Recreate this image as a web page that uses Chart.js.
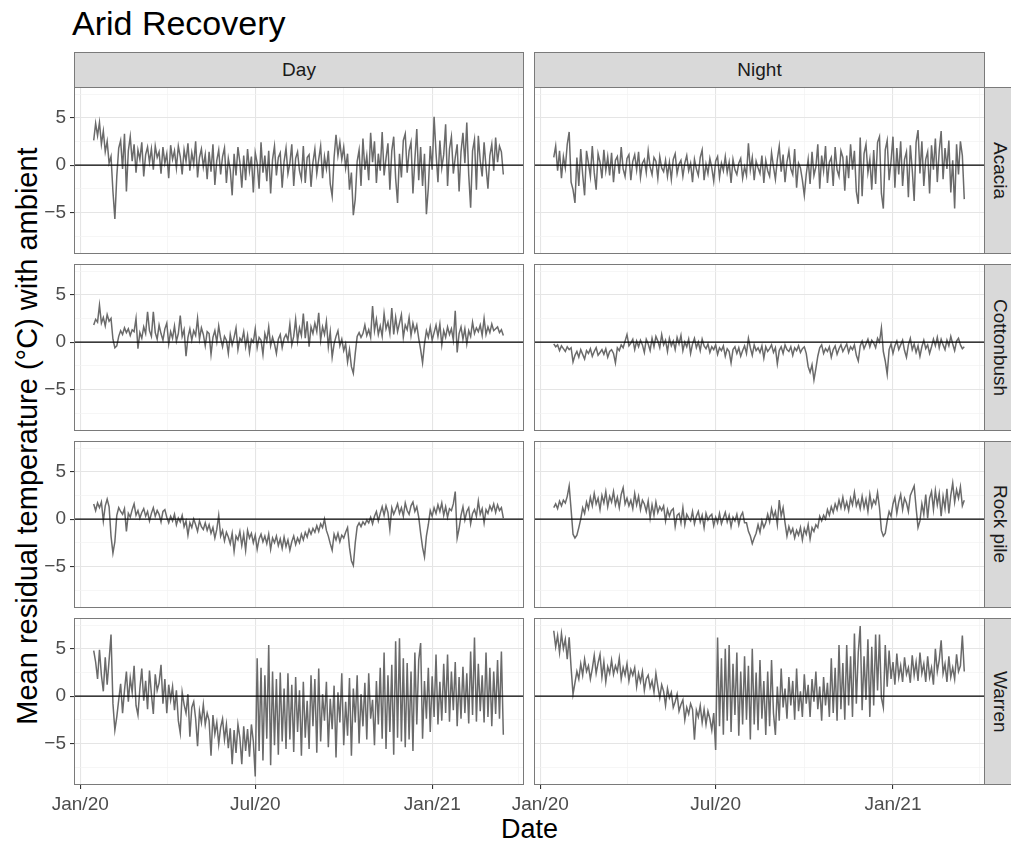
<!DOCTYPE html>
<html>
<head>
<meta charset="utf-8">
<title>Arid Recovery</title>
<script src="https://cdn.jsdelivr.net/npm/chart.js@4.4.0/dist/chart.umd.min.js"></script>
<style>
  body { margin: 0; background: #fff; font-family: 'Liberation Sans', Arial, sans-serif; }
  #page { position: relative; width: 1011px; height: 845px; overflow: hidden; background: #fff; }
  #page canvas { position: absolute; }
  .strip { position: absolute; box-sizing: border-box; background: #d9d9d9; border: 1px solid #7a7a7a;
           color: #1a1a1a; font-size: 19px; display: flex; align-items: center; justify-content: center; }
  .strip.side { writing-mode: vertical-rl; }
  .label { position: absolute; color: #000; white-space: nowrap; line-height: 1; }
</style>
</head>
<body>
<div id="page">
  <div class="label" style="left:72px; top:6px; font-size:34px;">Arid Recovery</div>
  <div class="label" id="ytitle" style="font-size:29px;">Mean residual temperature (°C) with ambient</div>
  <div class="label" id="xtitle" style="font-size:27px;">Date</div>
</div>
<script>
// series sampled every second day, first sample mid January 2020 (days since 1 Jan 2020)
const startDay = 14;
const stepDays = 2;

const timeOfDay = ['Day', 'Night'];
const habitats = ['Acacia', 'Cottonbush', 'Rock pile', 'Warren'];

const dayAcacia = [
  2.6, 4.4, 3.1, 4.5, 2.2, 3.6, 1.4, 2.5, 0.2, 0.9,
  -2.8, -5.7, -1.2, 1.8, 2.6, -0.4, 3.3, -2.8, 1.5, 3.0,
  0.4, 2.2, -0.8, 1.6, 0.6, 2.4, -1.2, 1.1, 1.9, 0.3,
  1.7, -0.5, 2.0, 0.8, 1.4, -0.9, 1.9, 0.2, 1.2, -1.4,
  2.1, 0.6, 1.5, -0.3, 2.0, 0.9, -1.0, 1.6, 0.4, 2.3,
  -0.6, 1.3, 0.1, 2.5, -1.3, 0.8, 1.7, -0.2, 1.1, -1.5,
  1.4, -0.7, 2.2, -2.1, 0.5, 1.6, -1.0, 0.9, 1.8, -1.9,
  0.7, -0.5, -3.2, 1.2, -1.1, 1.9, 0.3, -2.4, 1.0, -1.6,
  1.7, -0.6, 0.9, -2.9, 1.3, 0.2, -2.5, 2.4, -0.8, 1.0,
  -1.7, 1.5, -3.0, 0.6, 2.0, -1.1, 0.8, 1.3, -2.4, 0.4,
  1.8, -0.9, 0.2, 2.2, -2.2, 0.7, 1.4, -0.6, -1.5, 2.0,
  -1.9, 0.8, 1.1, -2.3, 0.3, 1.7, -0.9, 0.6, 2.0, -1.4,
  0.9, -0.4, 1.5, -2.0, -3.3, 0.8, 3.2, 1.0, 2.4, 0.6,
  1.9, -0.3, 1.2, -2.6, -0.8, -5.3, -3.6, 0.4, 1.6, -2.2,
  2.8, -0.5, 1.0, -1.6, 3.4, 0.3, 2.5, -1.9, 1.2, -0.6,
  3.5, -1.1, 0.7, 2.3, -2.6, 1.5, 3.0, -1.4, -4.0, 1.2,
  -1.3, 2.6, 3.3, -0.8, 1.5, 2.4, -3.0, 0.6, 3.8, -1.6,
  1.9, -2.2, 1.2, -5.2, -2.4, 2.0, -0.5, 5.1, 1.3, -1.8,
  2.6, -0.3, 1.1, 4.3, -2.2, 1.7, 3.0, -0.9, 0.8, 2.2,
  -2.8, 1.4, 3.4, 0.2, 4.5, -1.0, -4.5, 1.5, 2.7, -2.6,
  3.1, 0.4, -1.2, 2.4, -0.2, -2.5, 1.0, 2.2, -0.6, 2.9,
  0.3, 2.0, 1.4, -1.0
];
const nightAcacia = [
  0.8, 2.0, -0.6, 1.5, -1.4, 0.9, -0.3, 2.2, 3.5, -1.8,
  -2.6, -4.0, 0.8, -2.2, 1.7, -1.0, -3.2, 1.5, 0.2, -1.2,
  2.0, -0.8, -2.6, 1.2, 0.3, -1.4, 1.6, -0.6, 0.9, -1.1,
  1.3, -1.8, 0.5, 0.9, -0.9, 1.9, -0.4, -1.2, 0.7, 1.1,
  -1.6, 0.4, 1.1, -0.5, 1.4, -1.3, 0.2, 0.6, -0.8, 1.5,
  -0.2, -1.0, 0.8, 0.4, -1.4, 0.9, -0.3, -0.7, 0.5, -1.2,
  0.3, -1.5, 0.6, 1.2, -0.9, 0.1, 0.5, -1.2, 0.2, 1.0,
  -0.6, 0.2, -1.8, 0.6, -0.4, -1.1, 0.8, 1.6, -1.6, 0.1,
  -0.9, 0.7, -0.3, -1.7, 0.4, 0.9, -1.3, 0.2, -0.6, 0.9,
  -0.8, 0.3, -1.9, 0.6, -0.5, -1.0, 0.2, 0.7, -1.4, -0.2,
  -1.1, 2.3, -0.5, 0.8, -1.6, 0.4, -0.3, -0.9, 1.0, -1.9,
  0.5, -0.6, -1.2, 1.3, -0.2, -1.5, 0.6, 2.0, -0.7, 1.1,
  -1.8, 0.3, 1.5, -0.4, -1.0, 1.7, -2.4, 0.2, -0.3, -1.6,
  -3.2, -1.0, 0.6, -2.0, 1.4, -1.1, -0.2, 2.2, -2.5, 1.0,
  -0.6, 2.0, -1.9, 0.3, 0.8, -2.2, 1.9, -0.5, -1.2, 1.5,
  0.8, -2.7, 1.0, -1.4, 2.2, -0.5, 1.5, -2.8, -4.1, 2.9,
  -3.3, 1.2, 2.2, -0.8, 0.6, -2.6, 1.6, -2.0, 2.4, 3.0,
  -3.0, -4.6, 1.6, 2.6, -1.6, 0.4, 3.0, -2.4, 1.8, -1.0,
  2.5, -2.2, 0.6, 1.4, -3.4, 2.1, -0.5, -3.8, 2.4, 3.7,
  -0.9, 2.5, -2.2, 0.6, 1.4, -3.0, 2.1, -0.5, 2.8, -1.8,
  1.5, 3.6, -1.5, 1.8, -0.4, 2.6, -2.9, 0.5, -4.6, 2.2,
  -1.0, 2.5, 1.0, -3.6
];
const dayCottonbush = [
  1.8, 2.4, 2.1, 3.9, 2.0, 2.6, 1.7, 2.9, 2.2, 2.5,
  0.3, -0.6, -0.4, 0.6, 1.2, 0.8, 1.5, 1.0, 1.4, 0.7,
  1.3, 1.1, 2.5, -0.7, 1.0, 0.4, 1.6, 0.9, 3.2, 1.2,
  0.6, 3.2, 1.0, 0.3, 1.8, 0.9, 0.2, 1.4, 2.0, -0.2,
  1.1, 0.4, 1.7, 0.1, 0.9, 2.8, 0.6, 1.3, -1.5, 0.5,
  1.4, 0.2, 1.2, 0.7, 2.5, 0.3, 1.5, 0.8, -0.4, 1.1,
  0.9, -1.3, 0.5, 1.2, 0.0, 1.7, 0.4, -0.5, 0.6, 0.2,
  -1.2, 0.8, -0.3, 0.5, 1.5, -0.8, 0.4, 0.1, 1.1, -0.5,
  0.7, -1.1, 0.3, 0.0, 1.4, -0.6, 0.5, 0.2, -1.3, 0.9,
  0.1, 1.6, -0.4, 0.5, -0.2, -1.2, 0.3, 0.8, -0.6, 0.4,
  0.8, 0.2, 1.9, -0.3, 0.6, 2.4, 0.1, 1.5, 0.7, 3.0,
  0.4, 2.2, -0.5, 1.6, 0.9, 2.0, 1.1, 3.1, 0.2, 1.6,
  0.8, 2.2, -0.5, 1.1, -1.6, -0.2, 0.6, 1.2, -0.4, 0.3,
  -0.9, -0.2, -2.1, -0.8, -2.6, -3.3, -1.2, 0.6, 1.0, 0.5,
  0.9, 1.8, 0.7, 1.3, 0.5, 3.8, 1.2, 2.4, 0.8, 1.7,
  0.6, 3.0, 1.4, 2.1, 0.9, 3.6, 0.8, 2.6, 1.1, 2.0,
  2.9, 0.5, 1.8, 1.3, 2.6, 0.7, 2.0, 1.1, 1.8, 0.4,
  -0.8, -2.2, -0.2, 1.2, 0.5, 1.6, 0.2, 1.0, 1.8, 0.6,
  1.9, -0.3, 1.2, 0.5, 1.6, 0.8, 1.4, 0.2, 3.3, -1.1,
  0.9, 1.6, 0.3, 1.4, -0.2, 1.2, 0.6, 2.1, 0.9, 1.5,
  1.1, 1.8, 0.7, 2.5, 0.8, 1.6, 1.0, 1.9, 1.2, 1.4,
  1.6, 1.0, 1.3, 0.7
];
const nightCottonbush = [
  -0.2, -0.5, -0.3, -0.9, -0.4, -0.7, -1.0, -0.5, -0.8, -0.6,
  -2.1, -1.4, -1.0, -1.6, -0.8, -1.3, -1.8, -0.9, -1.2, -0.7,
  -1.5, -1.0, -0.6, -1.4, -1.1, -0.8, -1.3, -0.7, -1.6, -1.0,
  -0.8, -1.2, -2.2, -0.6, -0.9, -0.3, -0.6, 0.1, 0.8, -0.4,
  -0.1, 0.3, -0.8, 0.1, -0.5, 0.2, -0.3, -1.1, 0.3, -0.2,
  -0.9, 0.4, -0.5, 0.6, 0.1, -0.6, 0.8, -0.3, 0.2, -1.0,
  0.4, -0.4, 0.1, -0.8, 0.5, -0.2, 0.7, -0.9, 0.0, -0.5,
  0.3, -1.2, -0.2, 0.4, -0.6, 0.0, -0.9, 0.3, -0.4, -0.7,
  -0.2, -1.1, -0.5, -0.8, -0.3, -1.3, -0.6, -0.9, -0.4, -1.5,
  -0.7, -1.0, -2.2, -0.8, -0.5, -1.2, -0.6, -1.5, -0.9, -0.4,
  -1.2, 0.4, -0.6, -1.4, -0.3, -0.9, -0.6, -1.1, -0.4, -1.7,
  -0.5, -1.0, -0.7, -0.3, -1.1, -0.6, -2.3, -0.9, -0.5, -1.2,
  -0.3, -0.8, -1.0, -0.5, -1.4, -0.6, -0.9, -0.4, -1.1, -0.7,
  -0.5, -1.2, -2.6, -3.2, -2.4, -4.0, -2.8, -1.5, -0.6, -0.3,
  -1.2, -0.7, -1.0, -0.5, -1.6, -0.8, -0.4, -1.3, -0.7, -0.3,
  -1.0, -0.6, -0.2, -1.1, -0.5, -0.8, -0.3, -1.4, -2.0, -0.4,
  0.1, -0.7, -0.2, 0.3, -0.5, 0.2, -0.1, -0.6, 0.4, 0.0,
  1.5, -1.0, -2.0, -3.4, -0.8, -0.2, -1.2, -0.4, 0.1, -0.8,
  -0.3, 0.2, -0.9, -1.6, -0.3, 0.4, -0.8, -0.2, -1.1, -0.4,
  -1.5, -0.5, 0.2, -0.7, -0.3, -1.2, -0.5, 0.3, -0.4, 0.5,
  -0.6, 0.3, -0.3, -0.8, 0.2, -0.4, 0.6, -0.2, -0.9, 0.1,
  0.4, -0.3, -0.7, -0.5
];
const dayRockPile = [
  1.6, 0.9, 1.7, 1.2, 1.8, -0.2, 1.4, 2.1, 1.3, -1.8,
  -3.6, -2.4, 0.4, 1.2, 0.8, 0.5, 1.1, -1.3, 0.6, 0.2,
  1.0, 1.6, 0.4, 0.9, 0.1, 0.7, 1.1, 0.3, 0.8, -0.2,
  0.6, 1.2, 0.3, 0.9, 0.5, -0.3, 0.8, 1.0, 0.2, -0.4,
  0.3, -0.2, 0.5, -0.6, 0.1, -0.3, 0.4, -0.8, -0.2, -1.7,
  -0.4, -0.9, 0.0, -0.6, -1.3, -0.2, -0.8, -1.1, -0.4, -1.2,
  -0.6, -1.5, -0.9, -2.0, -1.1, 0.4, -1.8, -1.2, -2.3, -1.4,
  -1.9, -2.6, -1.5, -3.4, -1.8, -2.2, -1.3, -2.8, -1.6, -3.3,
  -1.2, -2.0, -1.5, -2.5, -1.7, -3.2, -2.1, -1.6, -2.4, -1.8,
  -2.6, -1.6, -3.2, -2.0, -2.5, -1.8, -2.8, -2.1, -3.1, -1.9,
  -2.9, -2.2, -3.3, -2.4, -1.8, -2.7, -2.0, -2.5, -1.6, -2.2,
  -1.4, -1.9, -1.1, -1.6, -1.0, -1.4, -0.7, -1.3, -0.5, -0.9,
  0.0, -1.2, -1.8, -2.6, -3.3, -1.6, -2.2, -1.5, -2.4, -1.7,
  -2.0, -1.4, -0.9, -3.0, -4.4, -4.9, -2.5, -0.8, -0.4, -0.8,
  -0.3, -0.6, -0.1, -0.4, 0.2, -0.5, 0.3, 0.8, -0.2, 0.6,
  1.3, 0.4, 1.4, 0.7, -1.1, 1.2, 0.5, 1.0, 1.6, 0.6,
  1.2, 0.3, 1.7, 0.9, 0.5, 1.4, 1.8, 0.8, 1.3, 0.2,
  -1.5, -3.0, -4.0, -1.8, -0.6, 0.9, 0.3, 1.2, 0.6, 1.5,
  0.8, 1.7, 0.4, 1.3, 0.2, 1.1, 0.9, 1.6, 2.9, -2.0,
  -1.0, 0.4, 1.3, -0.1, 0.8, 1.2, -0.5, 0.6, 1.0, 0.3,
  1.9, 0.5, 1.1, -0.4, 1.0, 0.6, 1.4, 0.9, 1.6, 0.7,
  1.5, 0.9, 1.2, 0.1
];
const nightRockPile = [
  1.2, 1.6, 1.1, 1.9, 1.4, 2.0, 1.7, 2.4, 3.5, 1.0,
  -1.6, -2.0, -1.7, -0.9, 0.0, 1.2, 0.6, 1.8, 1.1, 2.3,
  1.4, 2.7, 1.6, 2.2, 1.0, 2.5, 1.7, 2.9, 1.3, 2.4,
  1.8, 2.9, 1.5, 2.3, 1.2, 2.6, 3.3, 1.6, 2.2, 1.4,
  2.0, 1.1, 2.7, 1.5, 2.4, 1.0, 2.0, 1.6, 0.8, 1.9,
  0.1, 1.5, 0.4, 1.8, 0.7, 1.3, 0.9, 1.4, -0.2, 1.0,
  0.3, 0.9, 1.1, -0.8, 0.4, 0.6, -0.4, 1.2, -0.6, 0.5,
  0.1, -0.2, 0.8, -0.5, 0.3, 0.8, -0.3, 0.4, -0.9, 0.6,
  -0.1, 0.3, 0.5, -0.7, 0.2, -0.4, 0.6, -0.5, 0.1, 0.7,
  -0.3, 0.4, -0.8, 0.2, -0.2, 0.5, -0.6, 0.3, 0.7, -0.4,
  -0.4, -1.3, -1.8, -2.6, -2.0, -1.5, -0.6, -1.4, -0.2, -0.9,
  -0.4, 0.5, -0.3, 1.1, 0.2, 0.8, -0.6, 2.0, 0.3, 1.2,
  -0.4, -1.8, -0.8, -1.5, -1.0, -2.0, -1.2, -1.7, -0.9, -2.2,
  -1.0, -1.6, -0.6, -2.1, -0.9, -1.3, -0.6, -0.9, 0.3, -0.2,
  0.4, 0.0, 1.0, 0.4, 1.3, 0.7, 1.6, 1.0, 2.0, 1.2,
  2.3, 1.1, 1.8, 0.9, 2.2, 1.5, 2.8, 1.4, 2.0, 1.1,
  2.4, 1.2, 2.1, 0.8, 2.6, 1.3, 2.0, 1.6, 2.8, 1.2,
  -1.2, -1.8, -1.5, -0.2, 0.8, 0.3, 1.6, 2.3, 0.6, 1.8,
  2.6, 1.0, 2.2, 1.7, 0.8, 2.5, 3.0, 3.5, 1.2, -0.9,
  -0.2, 1.6, 0.5, 2.6, 0.1, 2.2, 2.9, 1.0, 3.0, 1.5,
  2.7, 0.3, 2.4, 1.1, 3.2, 0.6, 2.5, 3.8, 1.8, 3.1,
  2.2, 3.4, 1.4, 2.0
];
const dayWarren = [
  4.8, 3.6, 1.8, 4.9, 2.2, 0.5, 4.1, 1.2, 3.8, 6.5,
  -0.8, -3.6, -2.2, -0.4, 1.3, -1.8, 0.6, 2.6, -0.6, 1.9,
  0.4, 3.2, -1.0, -2.0, 0.8, 2.9, -0.5, 1.6, -1.4, 2.7,
  0.2, -1.9, 2.3, 0.6, 1.4, 3.3, -0.8, 1.8, -1.8, 1.2,
  -0.4, 1.0, -1.5, 0.6, -2.6, -3.9, 0.4, -0.9, -1.8, 0.2,
  -4.3, -1.2, -0.6, -2.4, -5.3, -1.6, -2.8, -0.9, -3.0, -1.8,
  -2.6, -6.3, -2.0, -4.0, -2.8, -5.1, -3.3, -2.4, -4.6, -3.0,
  -5.5, -3.4, -7.2, -3.6, -6.0, -3.0, -4.4, -7.2, -3.2, -5.8,
  -3.5, -6.4, -3.0, -4.8, -8.5, 4.0, -5.8, 3.0, -6.8, 2.2,
  -4.5, 5.4, -7.3, 2.6, -5.2, 1.8, -6.2, 2.5, -4.8, 0.8,
  -5.6, 2.4, -4.6, 1.2, -5.9, 2.0, -3.8, 0.6, -6.3, 1.5,
  -4.4, -0.5, -5.6, 2.2, -3.2, 1.8, -6.0, 2.9, -4.8, 0.2,
  -2.6, 1.5, -5.4, -0.3, -3.5, 1.1, -6.5, 0.4, -2.8, 2.4,
  -5.2, -0.6, -4.2, 1.9, -6.3, 0.8, -2.8, 2.2, -5.0, 0.2,
  -3.2, 1.4, -4.6, 2.4, -2.4, -0.4, -5.2, 1.6, -3.0, 3.0,
  -4.5, 4.6, -5.6, 2.2, -3.8, 3.3, -6.2, 5.8, -4.4, 6.1,
  -4.8, 4.0, -5.4, 3.5, -4.6, 2.6, -5.8, 4.6, -3.0, 3.8,
  5.6, -4.5, 1.6, -2.4, 3.0, -3.8, 2.1, -2.2, 4.4, -3.0,
  1.5, -2.6, 3.4, -1.8, 4.4, -2.7, 2.6, -1.5, 3.6, -3.2,
  2.0, -2.4, 3.1, -1.8, 2.4, -2.9, 4.7, -2.0, 6.2, -2.7,
  3.4, -1.6, 2.2, -2.8, 4.6, -2.2, 3.0, -3.2, 2.6, -1.9,
  3.8, -2.4, 4.7, -4.1
];
const nightWarren = [
  6.9, 5.2, 6.4, 4.6, 6.6, 5.0, 6.0, 3.9, 6.2, 3.0,
  0.2, 1.4, 2.6, 1.8, 3.4, 2.2, 3.9, 2.6, 3.2, 1.8,
  2.9, 4.3, 2.4, 3.5, 4.4, 2.0, 3.6, 1.5, 3.1, 2.4,
  3.8, 2.3, 3.2, 2.6, 4.0, 1.8, 3.0, 2.2, 3.4, 1.6,
  2.8, 2.2, 3.0, 1.0, 2.4, 1.5, 2.6, 0.6, 1.8, 2.2,
  0.9, 1.6, 0.4, 2.4, 1.0, -0.2, 1.2, 0.5, -1.0, 0.8,
  -0.2, 0.4, -1.2, -0.6, 0.2, -1.6, -0.9, -0.4, -2.5, -1.2,
  -1.9, -0.8, -1.4, -4.6, -1.5, -2.2, -1.0, -2.8, -1.4, -3.0,
  -1.6, -2.4, -3.6, -1.8, -5.7, 6.2, -3.2, 4.0, -4.1, 5.0,
  -2.6, 5.4, -3.8, 3.4, -2.0, 4.6, -4.2, 2.6, -3.0, 4.2,
  -2.5, 3.2, -4.6, 5.0, -3.0, 2.5, -3.6, 3.8, -2.4, 1.6,
  -4.1, 2.6, -3.2, 3.8, -1.8, -4.1, 1.0, -2.6, 2.9, -1.2,
  0.8, -2.4, 2.0, -1.0, 1.6, -2.5, 2.9, -1.6, 0.5, -2.2,
  2.3, -0.8, 1.2, -2.2, 1.8, -0.6, 2.6, -1.4, 1.0, -2.6,
  2.0, -1.0, 1.4, -2.2, 4.0, -1.8, 3.0, -2.6, 5.4, -1.4,
  3.5, -2.5, 5.4, -1.0, 4.2, -2.2, 6.6, -0.8, 4.6, 7.4,
  -1.5, 4.2, -0.4, 6.0, -2.2, 5.2, -1.0, 6.5, 0.6, 6.5,
  -0.2, -1.2, 5.4, 1.0, 4.8, 1.8, 3.6, 1.2, 4.5, 2.0,
  3.2, 1.5, 4.1, 2.3, 3.0, 1.4, 4.3, 2.2, 3.6, 1.6,
  4.6, 2.4, 3.4, 1.5, 4.2, 2.0, 3.0, 1.2, 5.0, 2.6,
  3.8, 5.9, 2.4, 3.4, 1.5, 4.2, 2.0, 3.0, 1.8, 4.4,
  2.6, 3.2, 6.4, 2.6
];

// axis breaks: months as days since 1 Jan 2020
const xTickDays = [0, 91, 182, 274, 366, 456];
const xTickLabels = { 0: 'Jan/20', 182: 'Jul/20', 366: 'Jan/21' };
const yTickValues = [-7.5, -5, -2.5, 0, 2.5, 5, 7.5];
const yTickLabels = { '-5': '\u22125', '0': '0', '5': '5' };

// facet grid: rows are habitats, columns day / night
const panels = [
  { row: 0, col: 0, values: dayAcacia },
  { row: 0, col: 1, values: nightAcacia },
  { row: 1, col: 0, values: dayCottonbush },
  { row: 1, col: 1, values: nightCottonbush },
  { row: 2, col: 0, values: dayRockPile },
  { row: 2, col: 1, values: nightRockPile },
  { row: 3, col: 0, values: dayWarren },
  { row: 3, col: 1, values: nightWarren }
];

const rowTops = [87, 264, 441, 618];
const panelH = 167;
const colLeft = [74, 534];
const colWidth = [450, 451];
const stripTop = 52;

Chart.defaults.font.family = "'Liberation Sans', Arial, sans-serif";

const page = document.getElementById('page');

// zero reference line and panel frame, drawn over the series
const panelDecor = {
  id: 'panelDecor',
  afterDatasetsDraw(chart) {
    const { ctx, chartArea: a } = chart;
    const y0 = chart.scales.y.getPixelForValue(0);
    ctx.save();
    ctx.strokeStyle = '#000';
    ctx.lineWidth = 1.3;
    ctx.beginPath();
    ctx.moveTo(a.left, y0);
    ctx.lineTo(a.right, y0);
    ctx.stroke();
    ctx.strokeStyle = '#7a7a7a';
    ctx.lineWidth = 1;
    ctx.strokeRect(a.left + 0.5, a.top + 0.5, a.width - 1, a.height - 1);
    ctx.restore();
  }
};

const isMajorX = v => v in xTickLabels;
const isMajorY = v => String(v) in yTickLabels;

function makePanel(p) {
  const bottom = p.row === habitats.length - 1;
  const left = p.col === 0;
  const axisW = left ? 74 : 34;
  const canvas = document.createElement('canvas');
  canvas.width = axisW + colWidth[p.col];
  canvas.height = panelH + (bottom ? 40 : 0);
  canvas.style.left = (colLeft[p.col] - axisW) + 'px';
  canvas.style.top = rowTops[p.row] + 'px';
  page.appendChild(canvas);

  const points = p.values.map((v, i) => ({ x: startDay + i * stepDays, y: v }));

  new Chart(canvas, {
    type: 'line',
    data: {
      datasets: [{
        data: points,
        borderColor: '#6a6a6a',
        borderWidth: 1.5,
        pointRadius: 0,
        tension: 0,
        fill: false
      }]
    },
    options: {
      responsive: false,
      animation: false,
      events: [],
      devicePixelRatio: 1,
      layout: { padding: 0, autoPadding: false },
      plugins: { legend: { display: false }, tooltip: { enabled: false } },
      scales: {
        x: {
          type: 'linear',
          min: -6.5,
          max: 461.5,
          afterBuildTicks: s => { s.ticks = xTickDays.map(v => ({ value: v })); },
          afterFit: s => {
            s.height = bottom ? 40 : 0;
            s.paddingLeft = 0; s.paddingRight = 0;
          },
          border: { display: false },
          grid: {
            drawTicks: true,
            tickLength: 4,
            color: c => isMajorX(c.tick && c.tick.value) ? '#e5e5e5' : '#f2f2f2',
            lineWidth: c => isMajorX(c.tick && c.tick.value) ? 1.1 : 0.7,
            tickColor: c => (bottom && c.tick && isMajorX(c.tick.value)) ? '#333333' : 'rgba(0,0,0,0)',
            tickWidth: 1.1
          },
          ticks: {
            display: bottom,
            autoSkip: false,
            maxRotation: 0,
            padding: 4,
            color: '#4d4d4d',
            font: { size: 19 },
            callback: v => xTickLabels[v] || ''
          }
        },
        y: {
          min: -9.4,
          max: 8.25,
          afterBuildTicks: s => { s.ticks = yTickValues.map(v => ({ value: v })); },
          afterFit: s => {
            s.width = axisW;
            s.paddingTop = 0; s.paddingBottom = 0;
          },
          border: { display: false },
          grid: {
            drawTicks: true,
            tickLength: 4,
            color: c => isMajorY(c.tick && c.tick.value) ? '#e5e5e5' : '#f2f2f2',
            lineWidth: c => isMajorY(c.tick && c.tick.value) ? 1.1 : 0.7,
            tickColor: c => (left && c.tick && isMajorY(c.tick.value)) ? '#333333' : 'rgba(0,0,0,0)',
            tickWidth: 1.1
          },
          ticks: {
            display: left,
            autoSkip: false,
            padding: 4,
            color: '#4d4d4d',
            font: { size: 19 },
            callback: v => yTickLabels[String(v)] || ''
          }
        }
      }
    },
    plugins: [panelDecor]
  });
}

function addStrip(text, x, y, w, h, side) {
  const d = document.createElement('div');
  d.className = 'strip' + (side ? ' side' : '');
  d.textContent = text;
  Object.assign(d.style, { left: x + 'px', top: y + 'px', width: w + 'px', height: h + 'px' });
  page.appendChild(d);
}

timeOfDay.forEach((t, c) => addStrip(t, colLeft[c], stripTop, colWidth[c], rowTops[0] - stripTop + 1, false));
habitats.forEach((h, r) => addStrip(h, colLeft[1] + colWidth[1] - 1, rowTops[r], 31, panelH, true));
panels.forEach(makePanel);

// axis titles
const yTitle = document.getElementById('ytitle');
const plotMid = (rowTops[0] + rowTops[3] + panelH) / 2;
yTitle.style.left = '27px';
yTitle.style.top = plotMid + 'px';
yTitle.style.transform = 'translate(-50%, -50%) rotate(-90deg)';
const xTitle = document.getElementById('xtitle');
xTitle.style.left = ((colLeft[0] + colLeft[1] + colWidth[1]) / 2) + 'px';
xTitle.style.top = '829px';
xTitle.style.transform = 'translate(-50%, -50%)';
</script>
</body>
</html>
